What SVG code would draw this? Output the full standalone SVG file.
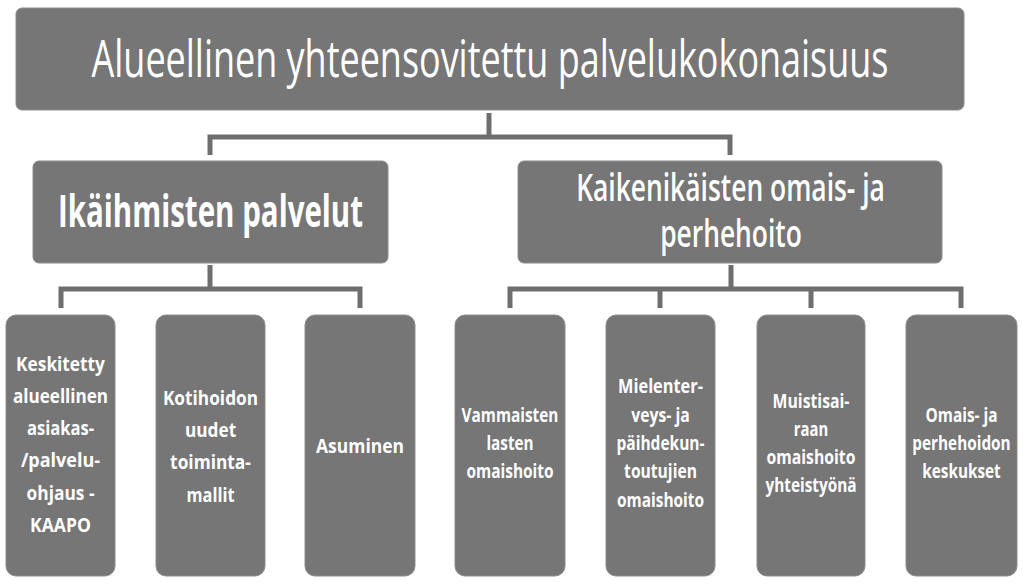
<svg xmlns="http://www.w3.org/2000/svg" width="1023" height="586" viewBox="0 0 1023 586">
<style>
.box{fill:#767676;stroke:#8c8c8c;stroke-width:1}
.conn{fill:none;stroke:#6e6e6e;stroke-width:5;stroke-linejoin:miter}
text{fill:#ffffff;font-family:"Open Sans","Noto Sans","Liberation Sans",sans-serif;text-anchor:middle;lengthAdjust:spacingAndGlyphs}
.t0{font-size:52px;font-weight:400}
.t1{font-size:45px;font-weight:700}
.t2{font-size:37px;font-weight:600}
.s{font-size:20px;font-weight:700}
.r{font-size:19px;font-weight:700}
</style>
<rect width="1023" height="586" fill="#ffffff"/>
<g id="connectors">
<path class="conn" d="M489,113 V137 M210,155 V137 H730 V155"/>
<path class="conn" d="M210,265 V289 M61,308 V289 H360 V308"/>
<path class="conn" d="M731,265 V289 M510,308 V289 H961 V308 M660,289 V308 M811,289 V308"/>
</g>
<g id="root">
<rect class="box" x="16" y="8" width="948" height="102" rx="6"/>
<text class="t0" transform="translate(490,77) scale(0.65,1)" textLength="1226" lengthAdjust="spacingAndGlyphs">Alueellinen yhteensovitettu palvelukokonaisuus</text>
</g>
<g id="ikaihmisten">
<rect class="box" x="33" y="161" width="355" height="102" rx="6"/>
<text class="t1" transform="translate(210.5,227) scale(0.62,1)" textLength="492" lengthAdjust="spacingAndGlyphs">Ikäihmisten palvelut</text>
</g>
<g id="kaikenikaisten">
<rect class="box" x="518" y="161" width="424" height="102" rx="6"/>
<text class="t2" transform="translate(730.5,201) scale(0.65,1)" textLength="475" lengthAdjust="spacingAndGlyphs">Kaikenikäisten omais- ja</text>
<text class="t2" transform="translate(731,247) scale(0.65,1)" textLength="218" lengthAdjust="spacingAndGlyphs">perhehoito</text>
</g>
<g id="keskitetty">
<rect class="box" x="6" y="315" width="109" height="261" rx="10"/>
<text class="s" transform="translate(60.5,371) scale(0.8,1)" textLength="111" lengthAdjust="spacingAndGlyphs">Keskitetty</text>
<text class="s" transform="translate(60.5,403) scale(0.8,1)" textLength="119" lengthAdjust="spacingAndGlyphs">alueellinen</text>
<text class="s" transform="translate(60.5,435) scale(0.8,1)" textLength="84" lengthAdjust="spacingAndGlyphs">asiakas-</text>
<text class="s" transform="translate(60.5,467) scale(0.8,1)" textLength="99" lengthAdjust="spacingAndGlyphs">/palvelu-</text>
<text class="s" transform="translate(60.5,500) scale(0.8,1)" textLength="85" lengthAdjust="spacingAndGlyphs">ohjaus -</text>
<text class="s" transform="translate(60.5,532) scale(0.8,1)" textLength="76" lengthAdjust="spacingAndGlyphs">KAAPO</text>
</g>
<g id="kotihoidon">
<rect class="box" x="156" y="315" width="109" height="261" rx="10"/>
<text class="s" transform="translate(210.5,405) scale(0.8,1)" textLength="119" lengthAdjust="spacingAndGlyphs">Kotihoidon</text>
<text class="s" transform="translate(210.5,437) scale(0.8,1)" textLength="64" lengthAdjust="spacingAndGlyphs">uudet</text>
<text class="s" transform="translate(210.5,469) scale(0.8,1)" textLength="101" lengthAdjust="spacingAndGlyphs">toiminta-</text>
<text class="s" transform="translate(210.5,502) scale(0.8,1)" textLength="60" lengthAdjust="spacingAndGlyphs">mallit</text>
</g>
<g id="asuminen">
<rect class="box" x="305" y="315" width="110" height="261" rx="10"/>
<text class="s" transform="translate(360,453) scale(0.8,1)" textLength="110" lengthAdjust="spacingAndGlyphs">Asuminen</text>
</g>
<g id="vammaisten">
<rect class="box" x="455" y="315" width="110" height="261" rx="10"/>
<text class="r" transform="translate(510,422) scale(0.8,1)" textLength="121" lengthAdjust="spacingAndGlyphs">Vammaisten</text>
<text class="r" transform="translate(510,450) scale(0.8,1)" textLength="59" lengthAdjust="spacingAndGlyphs">lasten</text>
<text class="r" transform="translate(510,478) scale(0.8,1)" textLength="109" lengthAdjust="spacingAndGlyphs">omaishoito</text>
</g>
<g id="mielenterveys">
<rect class="box" x="606" y="315" width="109" height="261" rx="10"/>
<text class="r" transform="translate(660.5,393) scale(0.8,1)" textLength="106" lengthAdjust="spacingAndGlyphs">Mielenter-</text>
<text class="r" transform="translate(660.5,422) scale(0.8,1)" textLength="73" lengthAdjust="spacingAndGlyphs">veys- ja</text>
<text class="r" transform="translate(660.5,450) scale(0.8,1)" textLength="110" lengthAdjust="spacingAndGlyphs">päihdekun-</text>
<text class="r" transform="translate(660.5,478) scale(0.8,1)" textLength="91" lengthAdjust="spacingAndGlyphs">toutujien</text>
<text class="r" transform="translate(660.5,507) scale(0.8,1)" textLength="109" lengthAdjust="spacingAndGlyphs">omaishoito</text>
</g>
<g id="muistisairaan">
<rect class="box" x="757" y="315" width="108" height="261" rx="10"/>
<text class="r" transform="translate(811,408) scale(0.8,1)" textLength="96" lengthAdjust="spacingAndGlyphs">Muistisai-</text>
<text class="r" transform="translate(811,436) scale(0.8,1)" textLength="43" lengthAdjust="spacingAndGlyphs">raan</text>
<text class="r" transform="translate(811,464) scale(0.8,1)" textLength="111" lengthAdjust="spacingAndGlyphs">omaishoito</text>
<text class="r" transform="translate(811,492) scale(0.8,1)" textLength="114" lengthAdjust="spacingAndGlyphs">yhteistyönä</text>
</g>
<g id="omaishoidon-keskukset">
<rect class="box" x="906" y="315" width="111" height="261" rx="10"/>
<text class="r" transform="translate(961.5,422) scale(0.8,1)" textLength="90" lengthAdjust="spacingAndGlyphs">Omais- ja</text>
<text class="r" transform="translate(961.5,450) scale(0.8,1)" textLength="123" lengthAdjust="spacingAndGlyphs">perhehoidon</text>
<text class="r" transform="translate(961.5,478) scale(0.8,1)" textLength="98" lengthAdjust="spacingAndGlyphs">keskukset</text>
</g>
</svg>
